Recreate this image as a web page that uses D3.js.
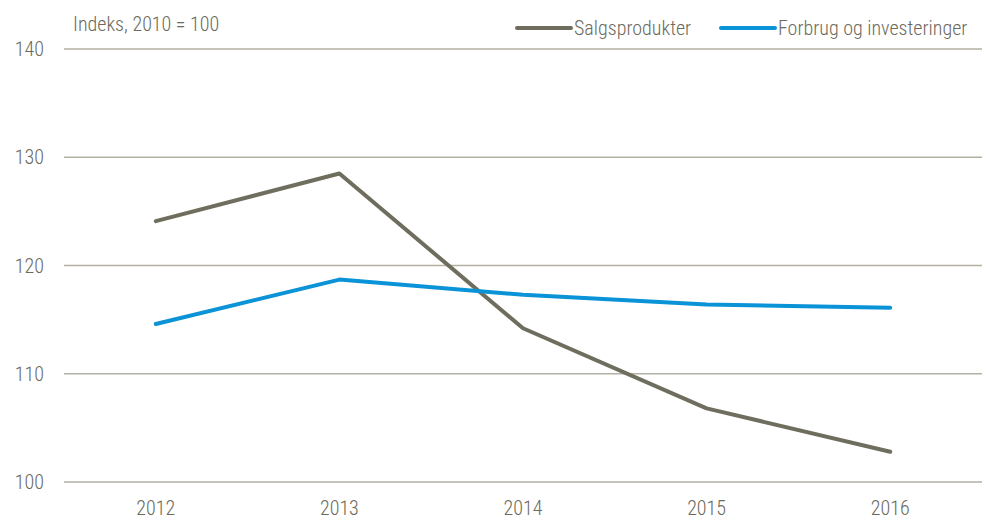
<!DOCTYPE html>
<meta charset="utf-8">
<style>
body { margin: 0; background: #fff; }
text { font-family: "Liberation Sans Narrow", "Arial Narrow", "Roboto Condensed", sans-serif; font-weight: 300; fill: #6b6a5c; }
</style>
<body>
<script src="https://d3js.org/d3.v7.min.js"></script>
<script>
// data
var years = ["2012", "2013", "2014", "2015", "2016"];
var salgsprodukter = [124.1, 128.5, 114.2, 106.8, 102.8];
var forbrug = [114.6, 118.7, 117.3, 116.4, 116.1];
var yTicks = [100, 110, 120, 130, 140];
var seriesNames = ["Salgsprodukter", "Forbrug og investeringer"];
var seriesColors = ["#6f6e5e", "#0a93d6"];

var width = 987, height = 520;
var margin = {top: 49, right: 5, bottom: 38, left: 64};
var fs = "20px";

var svg = d3.select("body").append("svg")
    .attr("width", width)
    .attr("height", height);

var x = d3.scaleBand().domain(years).range([margin.left, width - margin.right]);
var y = d3.scaleLinear().domain([100, 140]).range([height - margin.bottom, margin.top]);

// gridlines
svg.append("g").selectAll("line")
  .data(yTicks)
  .enter().append("line")
    .attr("x1", margin.left)
    .attr("x2", width - margin.right)
    .attr("y1", function(d) { return y(d); })
    .attr("y2", function(d) { return y(d); })
    .attr("stroke", "#b3b1a3")
    .attr("stroke-width", 1.3);

// y labels
svg.append("g").selectAll("text")
  .data(yTicks)
  .enter().append("text")
    .attr("x", 44)
    .attr("y", function(d) { return y(d); })
    .attr("dy", "0.35em")
    .attr("text-anchor", "end")
    .style("font-size", fs)
    .text(function(d) { return d; });

// x labels
svg.append("g").selectAll("text")
  .data(years)
  .enter().append("text")
    .attr("x", function(d) { return x(d) + x.bandwidth() / 2; })
    .attr("y", 515)
    .attr("text-anchor", "middle")
    .style("font-size", fs)
    .text(function(d) { return d; });

svg.append("text")
    .attr("x", 73)
    .attr("y", 31)
    .style("font-size", fs)
    .text("Indeks, 2010 = 100");

var line = d3.line()
    .x(function(d, i) { return x(years[i]) + x.bandwidth() / 2; })
    .y(function(d) { return y(d); });

[salgsprodukter, forbrug].forEach(function(s, i) {
  svg.append("path")
      .datum(s)
      .attr("d", line)
      .attr("fill", "none")
      .attr("stroke", seriesColors[i])
      .attr("stroke-width", 4)
      .attr("stroke-linejoin", "round")
      .attr("stroke-linecap", "round");
});

// legend
var legendX = [517, 721];
var leg = svg.append("g").selectAll("g")
  .data(seriesNames)
  .enter().append("g")
    .attr("transform", function(d, i) { return "translate(" + legendX[i] + ",28)"; });
leg.append("line")
    .attr("x1", 0).attr("x2", 54)
    .attr("stroke", function(d, i) { return seriesColors[i]; })
    .attr("stroke-width", 4)
    .attr("stroke-linecap", "round");
leg.append("text")
    .attr("x", 57)
    .attr("dy", "0.35em")
    .style("font-size", fs)
    .text(function(d) { return d; });
</script>
</body>
